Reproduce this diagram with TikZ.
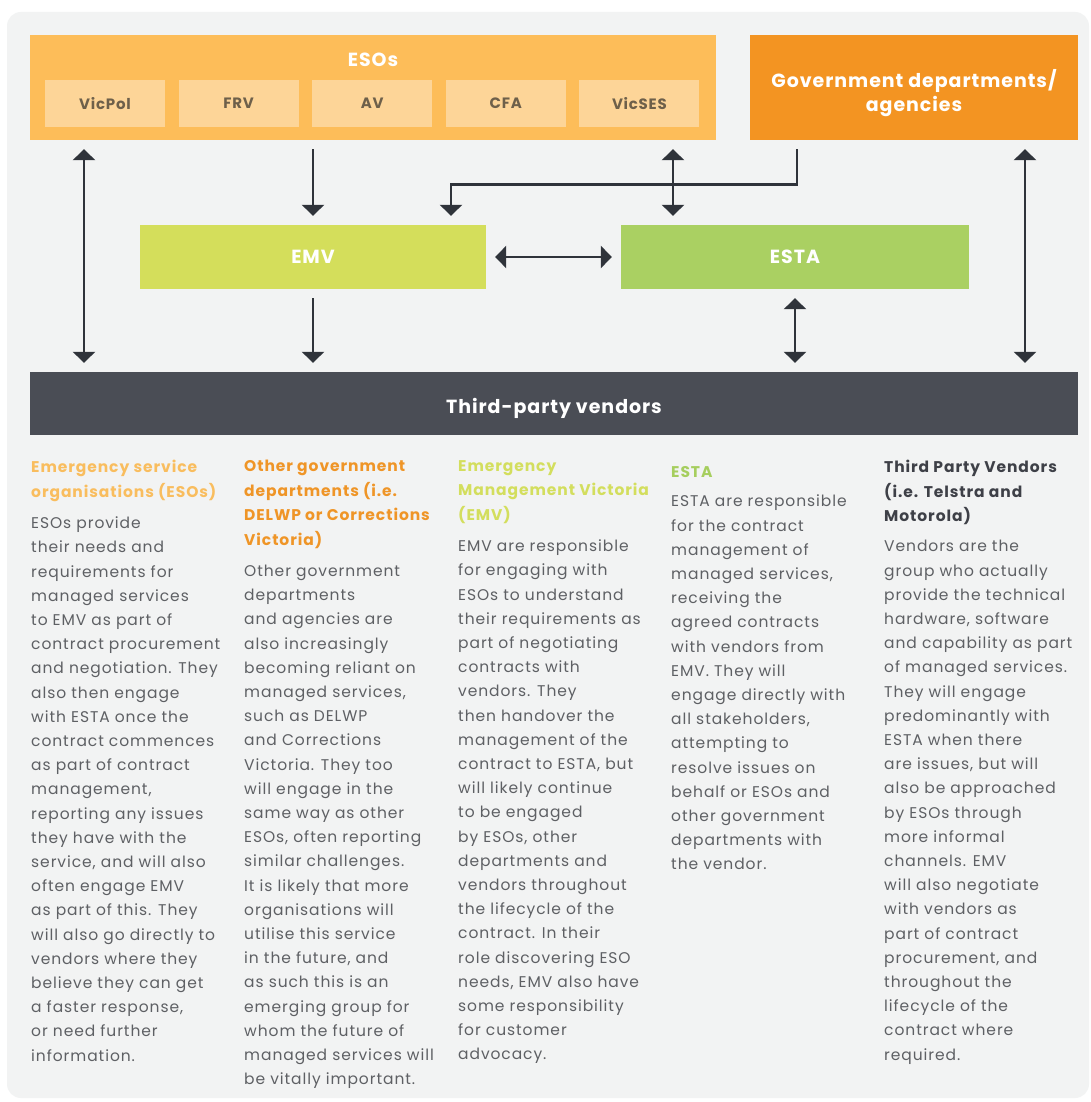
\documentclass[tikz,border=0pt]{standalone}
\usepackage{fontspec}
\setmainfont{Poppins}
\newfontfamily\keyfont{Poppins}[LetterSpace=6]
\newfontfamily\boxfont{Poppins}[LetterSpace=5]
\usetikzlibrary{arrows.meta,positioning}

\definecolor{panelgrey}{HTML}{F2F3F3}
\definecolor{esoorange}{HTML}{FDBD59}
\definecolor{esolight}{HTML}{FDD598}
\definecolor{govorange}{HTML}{F39422}
\definecolor{emvgreen}{HTML}{D4DE5B}
\definecolor{estagreen}{HTML}{AAD062}
\definecolor{vendorgrey}{HTML}{4A4D55}
\definecolor{linkgrey}{HTML}{2F333A}
\definecolor{bodygrey}{HTML}{5E6064}
\definecolor{servtext}{HTML}{6E604A}
\definecolor{esohead}{HTML}{F9BD5E}
\definecolor{govhead}{HTML}{EF9527}
\definecolor{emvhead}{HTML}{D3DE5D}
\definecolor{estahead}{HTML}{A6CE5E}
\definecolor{vendhead}{HTML}{3E4047}

\begin{document}
\begin{tikzpicture}[x=1pt,y=-1pt,
  box/.style={rectangle,minimum height=64pt,text=white,font=\boxfont\fontsize{19}{24}\selectfont\bfseries},
  service/.style={rectangle,fill=esolight,minimum width=120pt,minimum height=47pt,text=servtext,font=\boxfont\fontsize{15}{18}\selectfont\bfseries},
  link/.style={draw=linkgrey,line width=2.8pt,shorten <=9pt,shorten >=9pt},
  >={Triangle[width=22pt,length=11pt]},
  head/.style={anchor=north west,align=left,inner sep=0pt,font=\keyfont\fontsize{15.5}{24.5}\selectfont\bfseries,execute at begin node=\strut,execute at end node=\strut},
  body/.style={anchor=north west,align=left,inner sep=0pt,text=bodygrey,font=\keyfont\fontsize{15.5}{24.2}\selectfont,execute at begin node=\strut,execute at end node=\strut}]
\useasboundingbox (0,0) rectangle (1091,1102);
\fill [white] (0,0) rectangle (1091,1102);
\fill [panelgrey,rounded corners=14pt] (7,12) rectangle (1089,1098);

% boxes
\node (esos) [box,fill=esoorange,minimum width=686pt,minimum height=105pt] at (373,87.5) {};
\node (esotitle) [below=18pt of esos.north,inner sep=0pt,text=white,font=\boxfont\fontsize{19}{24}\selectfont\bfseries] {ESOs};
\foreach \n/\t [count=\i from 0] in {vicpol/VicPol,frv/FRV,av/AV,cfa/CFA,vicses/VicSES}
  \node (\n) [service] at ({105+133.6*\i},103.5) {\t};
\node (gov)      [box,fill=govorange,minimum width=328pt,minimum height=105pt] at (914,87.5) {};
\node (govtitle) [align=center,text=white,font=\boxfont\fontsize{19}{24}\selectfont\bfseries] at ([yshift=-6pt]gov.center) {Government departments/\\agencies};
\node (emv)     [box,fill=emvgreen,minimum width=346pt] at (313,257) {EMV};
\node (esta)    [box,fill=estagreen,minimum width=348pt] at (795,257) {ESTA};
\node (vendors) [box,fill=vendorgrey,minimum width=1048pt,minimum height=63pt,text height=19pt,text depth=0pt] at (554,403.5) {Third-party vendors};

% connectors
\draw [link,<->] (esos.south -| 84,0) -- (vendors.north -| 84,0);
\draw [link,->]  (esos.south -| emv) -- (emv);
\draw [link,->]  (gov.south -| 797,0) -- ++(0,44) -| (emv.north -| 451,0);
\draw [link,<->] (esos.south -| 673,0) -- (esta.north -| 673,0);
\draw [link,<->] (emv) -- (esta);
\draw [link,->]  (emv) -- (vendors.north -| emv);
\draw [link,<->] (esta) -- (vendors.north -| esta);
\draw [link,<->] (gov.south -| 1025,0) -- (vendors.north -| 1025,0);

% key
\node (h1) [head,text=esohead] at (31,460) {Emergency service\\organisations (ESOs)};
\node (b1) [body,below=12pt of h1.south west,anchor=north west] {ESOs provide\\their needs and\\requirements for\\managed services\\to EMV as part of\\contract procurement\\and negotiation. They\\also then engage\\with ESTA once the\\contract commences\\as part of contract\\management,\\reporting any issues\\they have with the\\service, and will also\\often engage EMV\\as part of this. They\\will also go directly to\\vendors where they\\believe they can get\\a faster response,\\or need further\\information.};

\node (h2) [head,text=govhead] at (244,460) {Other government\\departments (i.e.\\DELWP or Corrections\\Victoria)};
\node (b2) [body,below=12pt of h2.south west,anchor=north west] {Other government\\departments\\and agencies are\\also increasingly\\becoming reliant on\\managed services,\\such as DELWP\\and Corrections\\Victoria. They too\\will engage in the\\same way as other\\ESOs, often reporting\\similar challenges.\\It is likely that more\\organisations will\\utilise this service\\in the future, and\\as such this is an\\emerging group for\\whom the future of\\managed services will\\be vitally important.};

\node (h3) [head,text=emvhead] at (458,460) {Emergency\\Management Victoria\\(EMV)};
\node (b3) [body,below=12pt of h3.south west,anchor=north west] {EMV are responsible\\for engaging with\\ESOs to understand\\their requirements as\\part of negotiating\\contracts with\\vendors. They\\then handover the\\management of the\\contract to ESTA, but\\will likely continue\\to be engaged\\by ESOs, other\\departments and\\vendors throughout\\the lifecycle of the\\contract. In their\\role discovering ESO\\needs, EMV also have\\some responsibility\\for customer\\advocacy.};

\node (h4) [head,text=estahead] at (671,460) {ESTA};
\node (b4) [body,below=10pt of h4.south west,anchor=north west] {ESTA are responsible\\for the contract\\management of\\managed services,\\receiving the\\agreed contracts\\with vendors from\\EMV. They will\\engage directly with\\all stakeholders,\\attempting to\\resolve issues on\\behalf or ESOs and\\other government\\departments with\\the vendor.};

\node (h5) [head,text=vendhead] at (884,460) {Third Party Vendors\\(i.e. Telstra and\\Motorola)};
\node (b5) [body,below=11pt of h5.south west,anchor=north west] {Vendors are the\\group who actually\\provide the technical\\hardware, software\\and capability as part\\of managed services.\\They will engage\\predominantly with\\ESTA when there\\are issues, but will\\also be approached\\by ESOs through\\more informal\\channels. EMV\\will also negotiate\\with vendors as\\part of contract\\procurement, and\\throughout the\\lifecycle of the\\contract where\\required.};
\end{tikzpicture}
\end{document}
